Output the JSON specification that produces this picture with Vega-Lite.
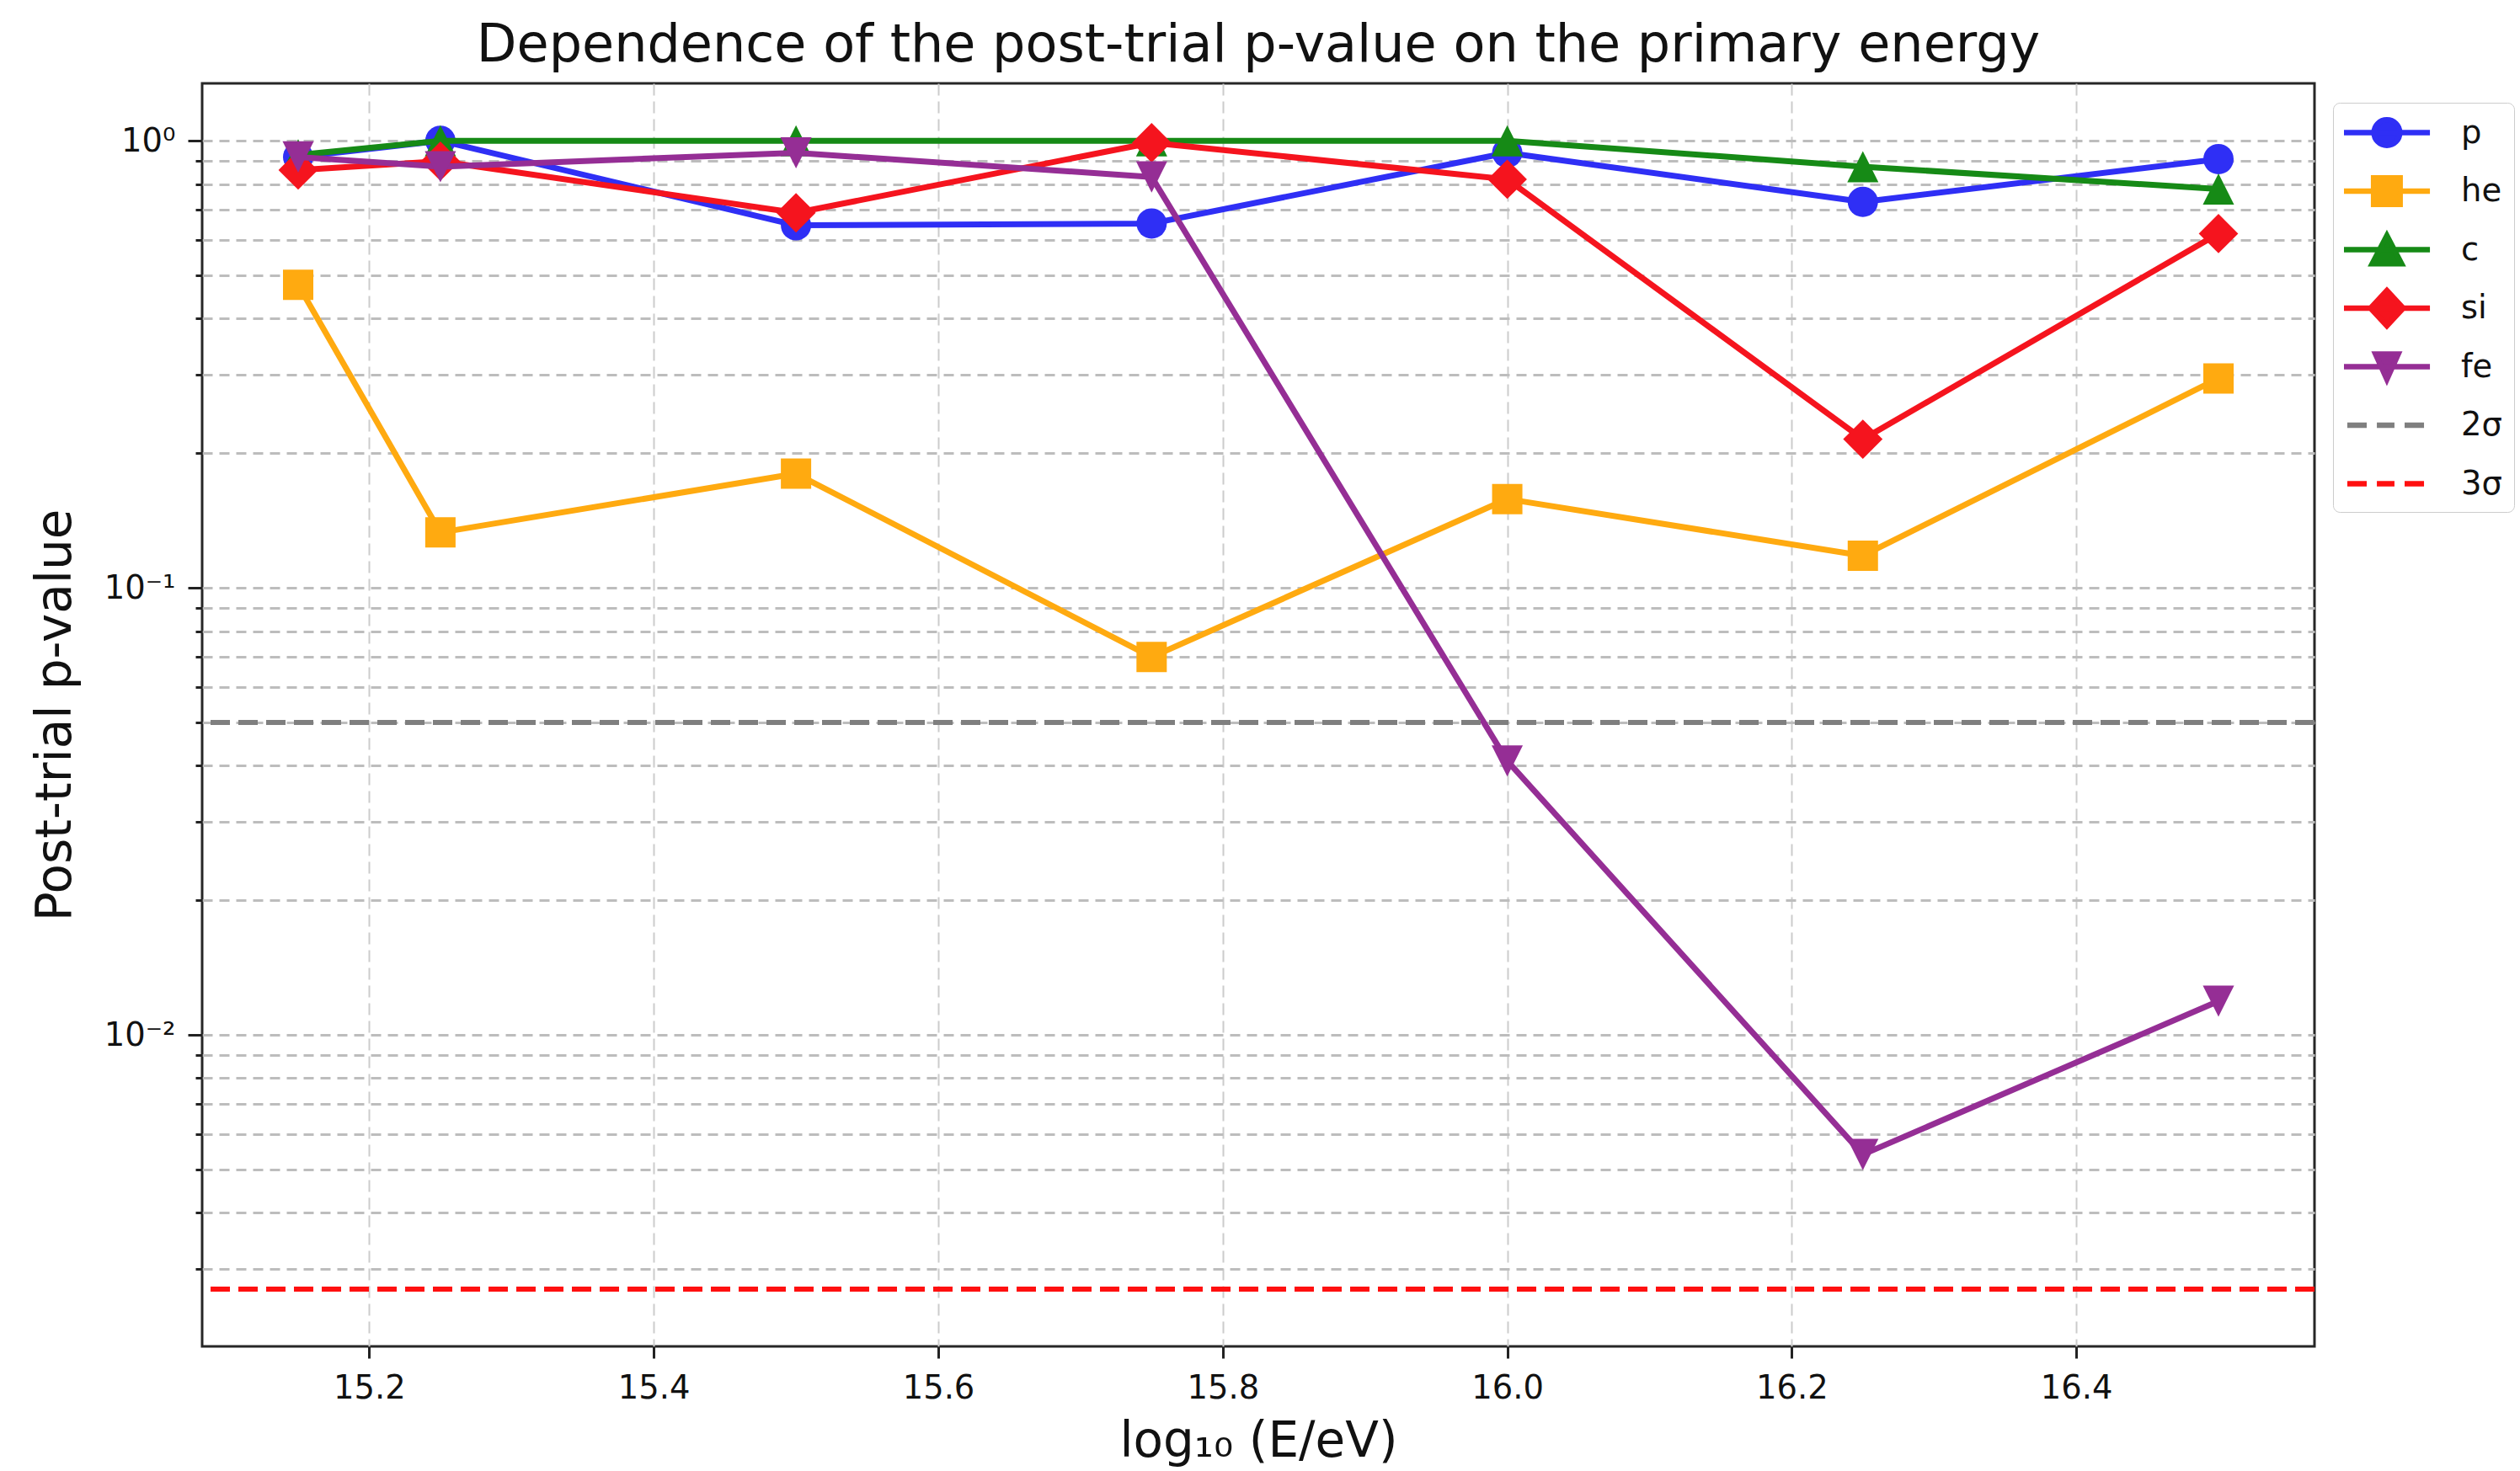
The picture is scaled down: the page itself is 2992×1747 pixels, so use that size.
{
  "$schema": "https://vega.github.io/schema/vega-lite/v6.json",
  "width": 2508,
  "height": 1500,
  "autosize": {"type": "none"},
  "padding": {"left": 240, "top": 99, "right": 244, "bottom": 148},
  "background": "white",
  "title": {"text": "Dependence of the post-trial p-value on the primary energy", "fontSize": 62, "font": "DejaVu Sans", "fontWeight": "normal", "color": "#111111", "anchor": "middle", "frame": "group", "offset": 13},
  "config": {
    "view": {"stroke": "#262626", "strokeWidth": 3},
    "axis": {"labelFont": "DejaVu Sans", "titleFont": "DejaVu Sans"}
  },
  "datasets": {
    "points": [
      {"E": 15.15, "series": "p", "pval": 0.92},
      {"E": 15.25, "series": "p", "pval": 1.0},
      {"E": 15.5, "series": "p", "pval": 0.647},
      {"E": 15.75, "series": "p", "pval": 0.653},
      {"E": 16.0, "series": "p", "pval": 0.94},
      {"E": 16.25, "series": "p", "pval": 0.73},
      {"E": 16.5, "series": "p", "pval": 0.91},
      {"E": 15.15, "series": "he", "pval": 0.476},
      {"E": 15.25, "series": "he", "pval": 0.133},
      {"E": 15.5, "series": "he", "pval": 0.18},
      {"E": 15.75, "series": "he", "pval": 0.07},
      {"E": 16.0, "series": "he", "pval": 0.158},
      {"E": 16.25, "series": "he", "pval": 0.118},
      {"E": 16.5, "series": "he", "pval": 0.294},
      {"E": 15.15, "series": "c", "pval": 0.93},
      {"E": 15.25, "series": "c", "pval": 1.0},
      {"E": 15.5, "series": "c", "pval": 1.0},
      {"E": 15.75, "series": "c", "pval": 1.0},
      {"E": 16.0, "series": "c", "pval": 1.0},
      {"E": 16.25, "series": "c", "pval": 0.875},
      {"E": 16.5, "series": "c", "pval": 0.78},
      {"E": 15.15, "series": "si", "pval": 0.86},
      {"E": 15.25, "series": "si", "pval": 0.9},
      {"E": 15.5, "series": "si", "pval": 0.69},
      {"E": 15.75, "series": "si", "pval": 0.99},
      {"E": 16.0, "series": "si", "pval": 0.82},
      {"E": 16.25, "series": "si", "pval": 0.215},
      {"E": 16.5, "series": "si", "pval": 0.62},
      {"E": 15.15, "series": "fe", "pval": 0.92},
      {"E": 15.25, "series": "fe", "pval": 0.875},
      {"E": 15.5, "series": "fe", "pval": 0.94},
      {"E": 15.75, "series": "fe", "pval": 0.83},
      {"E": 16.0, "series": "fe", "pval": 0.041},
      {"E": 16.25, "series": "fe", "pval": 0.0054},
      {"E": 16.5, "series": "fe", "pval": 0.0119}
    ],
    "legendKeys": [
      {"lkey": "p"}, {"lkey": "he"}, {"lkey": "c"}, {"lkey": "si"}, {"lkey": "fe"}, {"lkey": "2σ"}, {"lkey": "3σ"}
    ],
    "note": [{"line": "На"}, {"line": "соо"}, {"line": "(Fe"}, {"line": "ма"}]
  },
  "data": {"name": "points"},
  "encoding": {
    "x": {"field": "E", "type": "quantitative", "scale": {"domain": [15.0825, 16.5675], "nice": false, "zero": false},
      "axis": {"values": [15.2, 15.4, 15.6, 15.8, 16.0, 16.2, 16.4], "format": ".1f", "labelFontSize": 38.5, "labelColor": "#111111", "tickSize": 14, "tickWidth": 3, "tickColor": "#222222", "labelPadding": 17, "labelFlush": false, "domain": false, "grid": true, "gridColor": "#cccccc", "gridDash": [14, 7], "gridWidth": 2, "title": "log₁₀ (E/eV)", "titleFontSize": 58, "titleFontWeight": "normal", "titleColor": "#111111", "titlePadding": 16}},
    "y": {"field": "pval", "type": "quantitative", "scale": {"type": "log", "domain": [0.00201, 1.344], "nice": false},
      "axis": {"values": [0.003, 0.004, 0.005, 0.006, 0.007, 0.008, 0.009, 0.01, 0.02, 0.03, 0.04, 0.05, 0.06, 0.07, 0.08, 0.09, 0.1, 0.2, 0.3, 0.4, 0.5, 0.6, 0.7, 0.8, 0.9, 1],
        "labelExpr": "datum.value === 1 ? '10⁰' : datum.value === 0.1 ? '10⁻¹' : datum.value === 0.01 ? '10⁻²' : ''",
        "labelOverlap": false,
        "tickSize": {"condition": {"test": "datum.value === 1 || datum.value === 0.1 || datum.value === 0.01", "value": 17}, "value": 8},
        "tickWidth": 3, "tickColor": "#222222", "labelFontSize": 38.5, "labelColor": "#111111", "labelPadding": 15, "domain": false, "grid": true, "gridColor": "#bdbdbd", "gridDash": [12, 8], "gridWidth": 3, "title": "Post-trial p-value", "titleFontSize": 58, "titleFontWeight": "normal", "titleColor": "#111111", "titlePadding": 28}}
  },
  "layer": [
    {"transform": [{"filter": "datum.series === 'p'"}], "mark": {"type": "line", "color": "#2f2ff5", "strokeWidth": 7, "strokeJoin": "round"}},
    {"transform": [{"filter": "datum.series === 'p'"}], "mark": {"type": "point", "filled": true, "opacity": 1, "shape": "circle", "size": 1296, "color": "#2f2ff5"}},
    {"transform": [{"filter": "datum.series === 'he'"}], "mark": {"type": "line", "color": "#ffaa10", "strokeWidth": 7, "strokeJoin": "round"}},
    {"transform": [{"filter": "datum.series === 'he'"}], "mark": {"type": "point", "filled": true, "opacity": 1, "shape": "square", "size": 1296, "color": "#ffaa10"}},
    {"transform": [{"filter": "datum.series === 'c'"}], "mark": {"type": "line", "color": "#168a16", "strokeWidth": 7, "strokeJoin": "round"}},
    {"transform": [{"filter": "datum.series === 'c'"}], "mark": {"type": "point", "filled": true, "opacity": 1, "shape": "M0,-1.03L1.03,1.03L-1.03,1.03Z", "size": 1296, "color": "#168a16"}},
    {"transform": [{"filter": "datum.series === 'si'"}], "mark": {"type": "line", "color": "#f5141e", "strokeWidth": 7, "strokeJoin": "round"}},
    {"transform": [{"filter": "datum.series === 'si'"}], "mark": {"type": "point", "filled": true, "opacity": 1, "shape": "M0,-1.3L1.3,0L0,1.3L-1.3,0Z", "size": 1296, "color": "#f5141e"}},
    {"transform": [{"filter": "datum.series === 'fe'"}], "mark": {"type": "line", "color": "#952e95", "strokeWidth": 7, "strokeJoin": "round"}},
    {"transform": [{"filter": "datum.series === 'fe'"}], "mark": {"type": "point", "filled": true, "opacity": 1, "shape": "M-1.03,-1.03L1.03,-1.03L0,1.03Z", "size": 1296, "color": "#952e95"}},
    {"mark": {"type": "rule", "color": "#7f7f7f", "strokeWidth": 4.5, "strokeDash": [23, 10]},
      "encoding": {"x": null, "y": {"datum": 0.05, "type": "quantitative"}}},
    {"mark": {"type": "rule", "color": "#ff1010", "strokeWidth": 4.5, "strokeDash": [23, 10]},
      "encoding": {"x": null, "y": {"datum": 0.0027, "type": "quantitative"}}},
    {"data": {"name": "note"}, "transform": [{"filter": "datum.line === 'На'"}],
      "mark": {"type": "text", "font": "Liberation Sans", "fontSize": 102, "align": "left", "baseline": "bottom", "color": "#111111", "dx": 112},
      "encoding": {"x": {"value": "width"}, "y": {"datum": 0.010261, "type": "quantitative"}, "text": {"field": "line", "type": "nominal"}}},
    {"data": {"name": "note"}, "transform": [{"filter": "datum.line === 'соо'"}],
      "mark": {"type": "text", "font": "Liberation Sans", "fontSize": 102, "align": "left", "baseline": "bottom", "color": "#111111", "dx": 112},
      "encoding": {"x": {"value": "width"}, "y": {"datum": 0.006394, "type": "quantitative"}, "text": {"field": "line", "type": "nominal"}}},
    {"data": {"name": "note"}, "transform": [{"filter": "datum.line === '(Fe'"}],
      "mark": {"type": "text", "font": "Liberation Sans", "fontSize": 102, "align": "left", "baseline": "bottom", "color": "#111111", "dx": 112},
      "encoding": {"x": {"value": "width"}, "y": {"datum": 0.004004, "type": "quantitative"}, "text": {"field": "line", "type": "nominal"}}},
    {"data": {"name": "note"}, "transform": [{"filter": "datum.line === 'ма'"}],
      "mark": {"type": "text", "font": "Liberation Sans", "fontSize": 102, "align": "left", "baseline": "bottom", "color": "#111111", "dx": 112},
      "encoding": {"x": {"value": "width"}, "y": {"datum": 0.002495, "type": "quantitative"}, "text": {"field": "line", "type": "nominal"}}},
    {"data": {"name": "legendKeys"},
      "mark": {"type": "point", "filled": true, "opacity": 1, "clip": true, "size": 1296},
      "encoding": {
        "x": {"datum": 14.5, "type": "quantitative"},
        "y": {"datum": 0.5, "type": "quantitative"},
        "fill": {"field": "lkey", "type": "nominal", "scale": {"domain": ["p", "he", "c", "si", "fe", "2σ", "3σ"], "range": ["#2f2ff5", "#ffaa10", "#168a16", "#f5141e", "#952e95", "#7f7f7f", "#ff1010"]},
          "legend": {"title": null, "orient": "none", "legendX": 2530, "legendY": 23, "padding": 14, "gridAlign": "all", "symbolSize": 1296, "symbolStrokeWidth": 6.5, "symbolOpacity": 1, "labelFontSize": 38.5, "labelFont": "DejaVu Sans", "labelColor": "#111111", "labelOffset": 95, "rowPadding": 0.5, "fillColor": "#ffffff", "strokeColor": "#cccccc", "cornerRadius": 8}},
        "stroke": {"field": "lkey", "type": "nominal", "scale": {"domain": ["p", "he", "c", "si", "fe", "2σ", "3σ"], "range": ["#2f2ff5", "#ffaa10", "#168a16", "#f5141e", "#952e95", "#7f7f7f", "#ff1010"]},
          "legend": {"title": null, "orient": "none", "legendX": 2530, "legendY": 23, "padding": 14, "gridAlign": "all", "symbolSize": 1296, "symbolStrokeWidth": 6.5, "symbolOpacity": 1, "labelFontSize": 38.5, "labelFont": "DejaVu Sans", "labelColor": "#111111", "labelOffset": 95, "rowPadding": 0.5, "fillColor": "#ffffff", "strokeColor": "#cccccc", "cornerRadius": 8}},
        "shape": {"field": "lkey", "type": "nominal", "scale": {"domain": ["p", "he", "c", "si", "fe", "2σ", "3σ"], "range": [
            "M-1.25,0H4.42M2.43,0A0.85,0.85,0,1,1,0.73,0A0.85,0.85,0,1,1,2.43,0Z",
            "M-1.25,0H4.42M0.705,-0.875H2.455V0.875H0.705Z",
            "M-1.25,0H4.42M1.58,-0.93L2.55,0.93L0.61,0.93Z",
            "M-1.25,0H4.42M1.58,-1.17L2.66,0L1.58,1.17L0.5,0Z",
            "M-1.25,0H4.42M0.83,-0.84L2.33,-0.84L1.58,0.84Z",
            "M-1.03,0H0.25M0.92,0H2.08M2.75,0H4.03",
            "M-1.03,0H0.25M0.92,0H2.08M2.75,0H4.03"]},
          "legend": {"title": null, "orient": "none", "legendX": 2530, "legendY": 23, "padding": 14, "gridAlign": "all", "symbolSize": 1296, "symbolStrokeWidth": 6.5, "symbolOpacity": 1, "labelFontSize": 38.5, "labelFont": "DejaVu Sans", "labelColor": "#111111", "labelOffset": 95, "rowPadding": 0.5, "fillColor": "#ffffff", "strokeColor": "#cccccc", "cornerRadius": 8}}
      }}
  ]
}
